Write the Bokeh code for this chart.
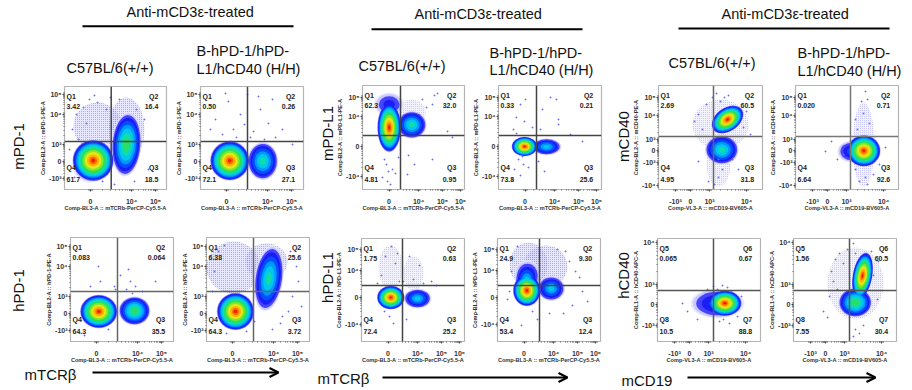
import math
from bokeh.plotting import figure
from bokeh.models import Column, FixedTicker, Range1d, LinearAxis, Span, Arrow, OpenHead
from bokeh.core.properties import value
from bokeh.embed import file_html
from bokeh.resources import INLINE

FONT = "Liberation Sans"

# pseudocolour density levels: colour and relative contour radius
LEVEL_COLORS = ["#e6e6ff", "#c0c0ff", "#4444ff", "#1c1cf4", "#0050ff", "#0098ff", "#00c8ec", "#10dcb0",
                "#28e060", "#80e828", "#e4e818", "#ffb400", "#ff6a00", "#f01c00"]
LEVEL_RADII = [1.00, .985, .96, .92, .87, .81, .75, .68, .60, .50, .40, .29, .18, .09]

# populations: centre x, centre y, radius x, radius y, angle in degrees, peak density level
P1_POPS = [(33, 63, 24, 24, 0, 2), (62, 60, 18, 32, 0, 2), (28.7, 29, 21, 21, 0, 13), (29, 28, 23, 19, 45, 4), (62, 45, 15, 32, -4, 8)]
P2_POPS = [(29.3, 28.7, 20, 20, 0, 13), (62.3, 28.3, 15.5, 19, 0, 7)]
P3_POPS = [(26.7, 85, 15, 12, 0, 3), (49, 76, 14, 14, 0, 1), (26.7, 62, 12, 25, 0, 13), (49.3, 64.7, 15, 14, 0, 7)]
P4_POPS = [(26, 43, 13, 10, 0, 13), (48, 42.7, 15, 8.5, 0, 6)]
P5_POPS = [(28.3, 30, 19, 17, 0, 13), (64, 30.7, 16, 14.5, 0, 8)]
P6_POPS = [(27, 74, 27, 26, 0, 2), (60, 80, 21, 18, 0, 2), (29, 30, 19, 19, 0, 13), (62.3, 63, 14.5, 33, -8, 7)]
P7_POPS = [(29, 74, 12, 22, 0, 1), (52, 68, 10, 17, 0, 1), (29.3, 44, 14, 12, 0, 13), (56, 43, 14, 10, 0, 6)]
P8_POPS = [(31, 77, 19, 22, 0, 2), (48, 75, 22, 21, 0, 2), (30, 66, 13, 15, 0, 4), (29.3, 61, 12, 18, 0, 6), (53.7, 53, 14, 12.5, 0, 6), (29.3, 51, 14, 16, 0, 13)]
P9_POPS = [(62, 65, 28, 25, 0, 1), (60, 25, 12, 22, 0, 1), (63.3, 39.7, 17, 15, 0, 7), (69, 70, 18, 12, 35, 13)]
P10_POPS = [(68, 45, 11, 42, 0, 1), (56, 38, 14, 11, 0, 4), (68.3, 38.7, 17, 16, 0, 13)]
P11_POPS = [(60, 38, 27, 15, 0, 4), (67.3, 38.3, 17, 13, 0, 13)]
P12_POPS = [(62, 58, 28, 36, 0, 1), (61.7, 39, 17, 15, 0, 8), (69, 65.7, 10, 24, -10, 13)]

# scattered events
P1_DX = [8, 12, 19, 25, 33, 42, 46, 14, 30, 55, 72, 80, 84, 38, 10, 50, 70, 22, 5]
P1_DY = [60, 75, 82, 90, 87, 80, 92, 50, 94, 90, 80, 70, 20, 8, 12, 5, 8, 66, 40]
P2_DX = [15, 28, 33, 40, 22, 47, 53, 60, 68, 75, 82, 36, 10, 44, 58, 64, 30, 25, 50, 72, 92]
P2_DY = [70, 88, 60, 75, 55, 95, 58, 80, 66, 52, 60, 52, 60, 65, 93, 50, 48, 96, 52, 90, 45]
P3_DX = [20, 25, 30, 22, 33, 60, 72, 70, 75, 64, 85, 90, 52, 45, 28, 36, 24, 46, 70, 26]
P3_DY = [12, 8, 20, 30, 16, 90, 94, 85, 96, 82, 58, 52, 25, 15, 5, 32, 25, 34, 30, 18]
P4_DX = [15, 18, 22, 27, 16, 20, 25, 42, 44, 52, 58, 60, 40, 46, 22, 30, 60, 14, 18, 34, 26, 24, 72, 84]
P4_DY = [60, 72, 85, 90, 20, 30, 25, 60, 80, 92, 90, 65, 28, 18, 14, 22, 70, 10, 56, 62, 68, 33, 55, 48]
P5_DX = [30, 28, 44, 50, 56, 60, 62, 65, 58, 45, 72, 38, 20, 14, 85]
P5_DY = [60, 75, 55, 66, 52, 60, 48, 55, 72, 52, 50, 12, 55, 6, 60]
P6_DX = [8, 12, 90, 84, 76, 92, 66, 74, 40, 20, 86, 6, 48, 82, 18, 95]
P6_DY = [70, 90, 75, 90, 25, 60, 12, 18, 10, 8, 45, 50, 20, 30, 96, 35]
P7_DX = [24, 30, 34, 38, 20, 42, 52, 58, 62, 48, 28, 32, 70, 75, 16, 23, 45, 36]
P7_DY = [85, 95, 78, 60, 66, 60, 62, 76, 58, 85, 25, 18, 60, 56, 58, 30, 22, 88]
P8_DX = [14, 60, 72, 78, 82, 85, 66, 75, 40, 24, 35, 52, 12, 90, 68, 10, 20]
P8_DY = [70, 92, 80, 70, 64, 50, 28, 36, 22, 16, 30, 28, 50, 40, 90, 42, 95]
P9_DX = [40, 44, 36, 48, 54, 58, 62, 66, 70, 85, 88, 92, 74, 60, 56, 40, 50, 64, 80, 60]
P9_DY = [75, 60, 68, 85, 92, 96, 88, 92, 94, 62, 78, 55, 30, 12, 5, 28, 8, 20, 20, 30]
P10_DX = [60, 68, 72, 66, 62, 74, 70, 48, 42, 36, 30, 84, 90, 70, 64, 78, 60, 72]
P10_DY = [70, 76, 90, 88, 60, 66, 98, 35, 30, 48, 38, 25, 42, 12, 8, 15, 20, 5]
P11_DX = [60, 65, 70, 56, 74, 30, 25, 84, 80, 66, 62, 72, 40, 50]
P11_DY = [52, 56, 54, 55, 50, 30, 38, 45, 25, 22, 20, 18, 22, 52]
P12_DX = [38, 42, 46, 40, 50, 54, 60, 62, 36, 44, 80, 85, 78, 62, 66, 70, 30, 34, 84, 60]
P12_DY = [70, 82, 88, 60, 78, 92, 98, 88, 45, 52, 66, 80, 90, 12, 8, 16, 30, 24, 42, 5]

# quadrant labels and percentages
P1_Q = ["Q1", "Q2", "Q3", "Q4"]
P11_Q = ["Q5", "Q6", "Q7", "Q8"]
P1_VAL = ["3.42", "16.4", "18.5", "61.7"]
P2_VAL = ["0.50", "0.26", "27.1", "72.1"]
P3_VAL = ["62.3", "32.0", "0.95", "4.81"]
P4_VAL = ["0.33", "0.21", "25.6", "73.8"]
P5_VAL = ["0.083", "0.064", "35.5", "64.3"]
P6_VAL = ["6.38", "25.6", "3.72", "64.3"]
P7_VAL = ["1.75", "0.63", "25.2", "72.4"]
P8_VAL = ["24.9", "9.30", "12.4", "53.4"]
P9_VAL = ["2.69", "60.5", "31.8", "4.95"]
P10_VAL = ["0.020", "0.71", "92.6", "6.64"]
P11_VAL = ["0.065", "0.67", "88.8", "10.5"]
P12_VAL = ["1.56", "60.5", "30.4", "7.55"]

# axis ticks (display channel) and their labels
X_TCR_LABELS = ["0", "10⁴", "10⁵"]
X_TCR_TICKS_A = [26, 67, 91]
X_TCR6_LABELS = ["0", "10⁴", "10⁵", "10⁶"]
X_TCR6_TICKS = [26.5, 56, 80, 98]
X_CD19_LABELS = ["-10³", "0", "10³", "10⁴"]
X_CD19_TICKS = [17, 32, 51, 88]
Y_PD1_LABELS = ["-10³", "0", "10³", "10⁴", "10⁵"]
Y_PD1_TICKS = [11, 28, 45, 75, 95]
Y_L1_LABELS = ["-10⁴", "0", "10⁴", "10⁵"]
Y_L1A_TICKS = [13, 43, 72.7, 92]
Y_L1B_TICKS = [17, 44, 71, 92]
Y_CD40_LABELS = ["-10⁴", "-10³", "0", "10³", "10⁴", "10⁵"]
Y_CD40_TICKS = [4, 27, 39, 50, 74, 92]
Y_H40_LABELS = ["-10³", "0", "10³", "10⁴"]
Y_H40_TICKS = [16, 37, 57, 99]

TCR_X = "Comp-BL3-A :: mTCRb-PerCP-Cy5.5-A"
CD19_X = "Comp-VL3-A :: mCD19-BV605-A"

# left, top, right, bottom of the frame, then vertical gate and horizontal gate (page pixels)
PANELS = [
    dict(box=(64, 86, 166, 189), vg=110.7, hg=141, pops=P1_POPS, dx=P1_DX, dy=P1_DY, q=P1_Q, v=P1_VAL, xt=X_TCR_TICKS_A, xl=X_TCR_LABELS, yt=Y_PD1_TICKS, yl=Y_PD1_LABELS, xa=TCR_X, ya="Comp-BL2-A :: mPD-1-PE-A", gc="#444444"),
    dict(box=(200, 86, 303, 189), vg=247, hg=141, pops=P2_POPS, dx=P2_DX, dy=P2_DY, q=P1_Q, v=P2_VAL, xt=X_TCR_TICKS_A, xl=X_TCR_LABELS, yt=Y_PD1_TICKS, yl=Y_PD1_LABELS, xa=TCR_X, ya="Comp-BL2-A :: mPD-1-PE-A", gc="#444444"),
    dict(box=(362, 85, 464, 189), vg=400, hg=135, pops=P3_POPS, dx=P3_DX, dy=P3_DY, q=P1_Q, v=P3_VAL, xt=X_TCR6_TICKS, xl=X_TCR6_LABELS, yt=Y_L1A_TICKS, yl=Y_L1_LABELS, xa=TCR_X, ya="Comp-BL2-A :: mPD-L1-PE-A", gc="#444444"),
    dict(box=(498, 85, 601, 189), vg=536, hg=135, pops=P4_POPS, dx=P4_DX, dy=P4_DY, q=P1_Q, v=P4_VAL, xt=X_TCR6_TICKS, xl=X_TCR6_LABELS, yt=Y_L1A_TICKS, yl=Y_L1_LABELS, xa=TCR_X, ya="Comp-BL2-A :: mPD-L1-PE-A", gc="#444444"),
    dict(box=(70, 237, 173, 341), vg=117, hg=291, pops=P5_POPS, dx=P5_DX, dy=P5_DY, q=P1_Q, v=P5_VAL, xt=X_TCR_TICKS_A, xl=X_TCR_LABELS, yt=Y_PD1_TICKS, yl=Y_PD1_LABELS, xa=TCR_X, ya="Comp-BL2-A :: hPD-1-PE-A", gc="#666666"),
    dict(box=(206, 237, 309, 341), vg=253, hg=291, pops=P6_POPS, dx=P6_DX, dy=P6_DY, q=P1_Q, v=P6_VAL, xt=X_TCR_TICKS_A, xl=X_TCR_LABELS, yt=Y_PD1_TICKS, yl=Y_PD1_LABELS, xa=TCR_X, ya="Comp-BL2-A :: hPD-1-PE-A", gc="#666666"),
    dict(box=(361, 238, 464, 341), vg=402, hg=285, pops=P7_POPS, dx=P7_DX, dy=P7_DY, q=P1_Q, v=P7_VAL, xt=X_TCR6_TICKS, xl=X_TCR6_LABELS, yt=Y_L1B_TICKS, yl=Y_L1_LABELS, xa=TCR_X, ya="Comp-BL2-A :: hPD-L1-PE-A", gc="#444444"),
    dict(box=(497, 238, 600, 341), vg=539, hg=285, pops=P8_POPS, dx=P8_DX, dy=P8_DY, q=P1_Q, v=P8_VAL, xt=X_TCR6_TICKS, xl=X_TCR6_LABELS, yt=Y_L1B_TICKS, yl=Y_L1_LABELS, xa=TCR_X, ya="Comp-BL2-A :: hPD-L1-PE-A", gc="#444444"),
    dict(box=(658, 85, 762, 189), vg=713, hg=136, pops=P9_POPS, dx=P9_DX, dy=P9_DY, q=P1_Q, v=P9_VAL, xt=X_CD19_TICKS, xl=X_CD19_LABELS, yt=Y_CD40_TICKS, yl=Y_CD40_LABELS, xa=CD19_X, ya="Comp-BL2-A :: mCD40-PE-A", gc="#666666"),
    dict(box=(795, 85, 898, 189), vg=850, hg=136, pops=P10_POPS, dx=P10_DX, dy=P10_DY, q=P1_Q, v=P10_VAL, xt=X_CD19_TICKS, xl=X_CD19_LABELS, yt=Y_CD40_TICKS, yl=Y_CD40_LABELS, xa=CD19_X, ya="Comp-BL2-A :: mCD40-PE-A", gc="#777777"),
    dict(box=(657, 238, 760, 341), vg=713, hg=290, pops=P11_POPS, dx=P11_DX, dy=P11_DY, q=P11_Q, v=P11_VAL, xt=X_CD19_TICKS, xl=X_CD19_LABELS, yt=Y_H40_TICKS, yl=Y_H40_LABELS, xa=CD19_X, ya="Comp-RL1-A :: hCD40-APC-A", gc="#555555"),
    dict(box=(793, 238, 896, 341), vg=849, hg=290, pops=P12_POPS, dx=P12_DX, dy=P12_DY, q=P11_Q, v=P12_VAL, xt=X_CD19_TICKS, xl=X_CD19_LABELS, yt=Y_H40_TICKS, yl=Y_H40_LABELS, xa=CD19_X, ya="Comp-RL1-A :: hCD40-APC-A", gc="#555555"),
]

# headings and labels drawn on the page layer
HEAD_TEXT = ["Anti-mCD3ε-treated"] * 3
HEAD_X = [126, 414, 721]
HEAD_Y = [11, 13, 13]
RULES = [(82, 293, 25.7), (371, 582, 28.7), (678, 889, 28)]
COL1_TEXT = ["C57BL/6(+/+)"] * 3
COL1_X = [66, 358, 668]
COL1_Y = [67, 65, 62]
COL2A_TEXT = ["B-hPD-1/hPD-"] * 3
COL2B_TEXT = ["L1/hCD40 (H/H)"] * 3
COL2_X = [196, 489, 797]
COL2A_Y = [50, 52, 52]
COL2B_Y = [68, 69, 70]
ROW_TEXT = ["mPD-1", "hPD-1", "mPD-L1", "hPD-L1", "mCD40", "hCD40"]
ROW_X = [18, 18, 327, 327, 623, 623]
ROW_Y = [146, 290, 133, 277, 136, 275]
AXIS_TEXT = ["mTCRβ", "mTCRβ", "mCD19"]
AXIS_X = [24, 317, 621]
AXIS_Y = [374, 378, 380]
ARROWS = [(92, 278, 372), (382, 567, 377), (687, 875, 377)]

W, H = 912, 390
ML, MR, MT, MB = 36, 10, 4, 30


def page_layer():
    p = figure(width=W, height=H, x_range=Range1d(0, W), y_range=Range1d(H, 0), toolbar_location=None,
               output_backend="svg", min_border=0, outline_line_color=None, background_fill_color=None,
               border_fill_color=None, x_axis_type=None, y_axis_type=None,
               styles={"position": "absolute", "left": "0px", "top": "0px"})
    p.grid.visible = False
    common = dict(text_font=value(FONT), text_color="#111111", text_baseline="middle")
    p.text(HEAD_X, HEAD_Y, text=HEAD_TEXT, text_font_size="14.5px", **common)
    p.text(COL1_X, COL1_Y, text=COL1_TEXT, text_font_size="14.5px", **common)
    p.text(COL2_X, COL2A_Y, text=COL2A_TEXT, text_font_size="14.5px", **common)
    p.text(COL2_X, COL2B_Y, text=COL2B_TEXT, text_font_size="14.5px", **common)
    p.text(ROW_X, ROW_Y, text=ROW_TEXT, text_font_size="15px", angle=math.pi / 2, text_align="center", **common)
    p.text(AXIS_X, AXIS_Y, text=AXIS_TEXT, text_font_size="15px", **common)
    for x0, x1, y in RULES:
        p.segment([x0], [y], [x1], [y], line_color="black", line_width=2)
    for x0, x1, y in ARROWS:
        p.add_layout(Arrow(x_start=x0, y_start=y, x_end=x1, y_end=y, line_width=2, line_color="black",
                           end=OpenHead(size=9, line_color="black", line_width=2)))
    return p


def minor_ticks(ticks):
    out = []
    for t in ticks:
        out += [t - 2, t - 1, t + 1, t + 2]
    for a, b in zip(ticks[:-1], ticks[1:]):
        out += [a + (b - a) * f for f in (0.3, 0.48, 0.6, 0.7, 0.78, 0.85, 0.9, 0.95)]
    return out


def panel(d):
    l, t, r, b = d["box"]
    fw, fh = r - l, b - t
    p = figure(frame_width=fw, frame_height=fh, x_range=Range1d(0, fw), y_range=Range1d(0, fh),
               toolbar_location=None, output_backend="svg", min_border_left=ML, min_border_right=MR,
               min_border_top=MT, min_border_bottom=MB, x_axis_type=None, y_axis_type=None,
               outline_line_color="#b4b4b4", outline_line_width=1.2, background_fill_color="white",
               border_fill_color=None,
               styles={"position": "absolute", "left": f"{l - ML}px", "top": f"{t - MT}px"})
    p.grid.visible = False
    for ticks, labels, title, side in ((d["xt"], d["xl"], d["xa"], "below"), (d["yt"], d["yl"], d["ya"], "left")):
        ax = LinearAxis(ticker=FixedTicker(ticks=ticks, minor_ticks=minor_ticks(ticks)),
                        major_label_overrides=dict(zip(ticks, labels)), axis_label=title,
                        axis_line_color=None, major_tick_line_color="#444444", minor_tick_line_color="#666666",
                        major_tick_out=2, major_tick_in=0, minor_tick_out=1, minor_tick_in=0,
                        major_label_standoff=6 if side == "below" else 1,
                        major_label_text_font=FONT, major_label_text_font_style="bold",
                        major_label_text_font_size="7px", major_label_text_color="#333333",
                        axis_label_text_font=FONT, axis_label_text_font_style="bold",
                        axis_label_text_font_size="5.6px", axis_label_text_color="#333333",
                        axis_label_standoff=-3 if side == "below" else 0)
        p.add_layout(ax, side)
    # sparse populations are stippled; the rest are contours, drawn level by level over all populations
    n = len(LEVEL_RADII)
    for (cx, cy, rx, ry, ang, peak) in d["pops"]:
        if peak <= 2:
            p.ellipse(x=cx, y=cy, width=2 * rx, height=2 * ry, angle=ang, angle_units="deg",
                      fill_color="#e8e8ff" if peak == 1 else "#d0d0ff", fill_alpha=0.5, line_color=None,
                      hatch_pattern="dot", hatch_scale=2, hatch_color="#5050ff",
                      hatch_alpha=0.35 if peak == 1 else 0.55)
    for lev in range(n):
        for (cx, cy, rx, ry, ang, peak) in d["pops"]:
            if peak > 2 and lev <= peak:
                inner = LEVEL_RADII[peak + 1] if peak + 1 < n else 0.0
                f = (LEVEL_RADII[lev] - inner) / (1 - inner)
                p.ellipse(x=cx, y=cy, width=2 * rx * f, height=2 * ry * f, angle=ang, angle_units="deg",
                          fill_color=LEVEL_COLORS[lev], line_color=None, fill_alpha=0.8 if lev < 2 else 1.0)
    p.scatter(d["dx"], d["dy"], marker="square", size=1, color="#6a6aff", alpha=0.8)
    p.add_layout(Span(location=d["vg"] - l, dimension="height", line_color=d["gc"], line_width=1.5))
    p.add_layout(Span(location=b - d["hg"], dimension="width", line_color=d["gc"], line_width=1.5))
    txt = dict(text_font=value(FONT), text_font_style="bold", text_font_size="7px", text_color="#222222",
               text_baseline="middle")
    q = d["q"]
    v = d["v"]
    p.text([2, 2], [fh * 0.905, fh * 0.805], text=[q[0], v[0]], **txt)
    p.text([fw * 0.92, fw * 0.92], [fh * 0.905, fh * 0.805], text=[q[1], v[1]], text_align="right", **txt)
    p.text([fw * 0.92, fw * 0.92], [fh * 0.21, fh * 0.10], text=[q[2], v[2]], text_align="right", **txt)
    p.text([2, 2], [fh * 0.21, fh * 0.10], text=[q[3], v[3]], **txt)
    return p


root = Column(children=[panel(d) for d in PANELS], width=W, height=H,
              styles={"position": "absolute", "left": "0px", "top": "0px"})

html = file_html([page_layer(), root], INLINE)
open("out.html", "w").write(html)
